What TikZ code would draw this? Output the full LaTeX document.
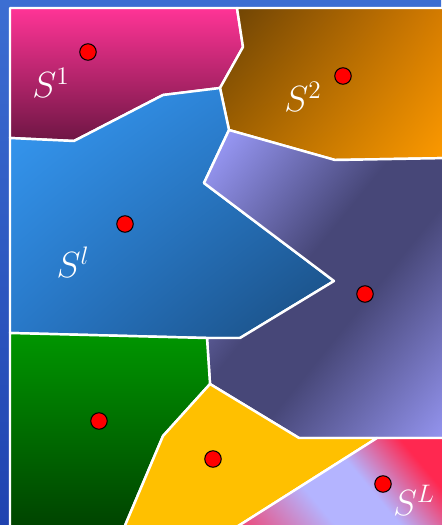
\documentclass[tikz,border=0pt]{standalone}
\usepackage{tikz}
\usetikzlibrary{shadings,calc}
\definecolor{bgtop}{HTML}{3C6ED2}
\definecolor{bgbot}{HTML}{2043B0}
\definecolor{pinktop}{HTML}{FF3496}
\definecolor{pinkbot}{HTML}{6E1644}
\definecolor{orul}{HTML}{694105}
\definecolor{orur}{HTML}{D77D00}
\definecolor{orll}{HTML}{A56400}
\definecolor{orlr}{HTML}{FF9B00}
\definecolor{blul}{HTML}{379BF5}
\definecolor{blmid}{HTML}{2878C8}
\definecolor{bllr}{HTML}{194B7D}
\definecolor{purplight}{HTML}{9B9BFA}
\definecolor{purpdark}{HTML}{474778}
\definecolor{grtop}{HTML}{009600}
\definecolor{grbot}{HTML}{004000}
\definecolor{yell}{HTML}{FFC000}
\definecolor{lavL}{HTML}{B4B4FF}
\definecolor{redL}{HTML}{FF2850}
% stops: bp = 50 + s/10, s = pixel distance across the band
\pgfdeclarehorizontalshading{purpband}{100bp}{color(0bp)=(purplight); color(32bp)=(purplight); color(47bp)=(purpdark); color(54bp)=(purpdark); color(70bp)=(purplight); color(100bp)=(purplight)}
\pgfdeclarehorizontalshading{lastband}{100bp}{color(0bp)=(redL); color(36bp)=(redL); color(45.5bp)=(lavL); color(50.5bp)=(lavL); color(56bp)=(redL); color(100bp)=(redL)}
\begin{document}
\begin{tikzpicture}[x=0.02cm, y=-0.02cm,
  cellline/.style={draw=white, line width=1.4pt, line join=round},
  seed/.style={circle, draw=black, fill=red, inner sep=0pt, minimum size=0.33cm, line width=0.6pt},
  cellname/.style={text=white, inner sep=0pt, font=\fontsize{22}{26}\selectfont},
]
\useasboundingbox (0,0) rectangle (441,525);
\shade[top color=bgtop, bottom color=bgbot] (0,0) rectangle (441,525);
% cell corners (pixel grid, y down)
\coordinate (tl) at (10,8);    \coordinate (tr) at (450,8);
\coordinate (bl) at (10,535);  \coordinate (br) at (450,535);
\coordinate (v1) at (237,8);   \coordinate (v2) at (243,47);
\coordinate (v3) at (220,88);  \coordinate (v4) at (163,95);
\coordinate (v5) at (74,141);  \coordinate (v6) at (10,138);
\coordinate (v7) at (335,160); \coordinate (v8) at (450,158);
\coordinate (v9) at (229,130); \coordinate (v10) at (204,183);
\coordinate (v11) at (334,281);\coordinate (v12) at (240,338);
\coordinate (v13) at (207,338);\coordinate (v14) at (10,333);
\coordinate (v15) at (210,384);\coordinate (v16) at (299,438);
\coordinate (v17) at (377,438);\coordinate (v18) at (450,438);
\coordinate (v19) at (163,436);\coordinate (v20) at (121,535);
\coordinate (v21) at (224,535);
\coordinate (cm) at (322,290);  \coordinate (cL) at (342,463);
% cells
\shade[cellline, top color=pinktop, bottom color=pinkbot]
  (tl) -- (v1) -- (v2) -- (v3) -- (v4) -- (v5) -- (v6) -- cycle;
\shade[cellline, upper left=orul, upper right=orur, lower left=orll, lower right=orlr]
  (v1) -- (tr) -- (v8) -- (v7) -- (v9) -- (v3) -- (v2) -- cycle;
\shade[cellline, upper left=blul, upper right=blmid, lower left=blmid, lower right=bllr]
  (v6) -- (v5) -- (v4) -- (v3) -- (v9) -- (v10) -- (v11) -- (v12) -- (v13) -- (v14) -- cycle;
% middle cell: dark band across, tilted
\begin{scope}
  \clip (v9) -- (v7) -- (v8) -- (v18) -- (v17) -- (v16) -- (v15) -- (v13) -- (v12) -- (v11) -- (v10) -- cycle;
  \begin{scope}[transform canvas={rotate around={-39:(cm)}}]
    \shade[shading=purpband] ($(cm)+(-250,-250)$) rectangle ($(cm)+(250,250)$);
  \end{scope}
\end{scope}
\draw[cellline]
  (v9) -- (v7) -- (v8) -- (v18) -- (v17) -- (v16) -- (v15) -- (v13) -- (v12) -- (v11) -- (v10) -- cycle;
\shade[cellline, top color=grtop, bottom color=grbot]
  (v14) -- (v13) -- (v15) -- (v19) -- (v20) -- (bl) -- cycle;
\fill[cellline, fill=yell]
  (v15) -- (v16) -- (v17) -- (v21) -- (v20) -- (v19) -- cycle;
% last cell: light band between red corners
\begin{scope}
  \clip (v17) -- (v18) -- (br) -- (v21) -- cycle;
  \begin{scope}[transform canvas={rotate around={40:(cL)}}]
    \shade[shading=lastband] ($(cL)+(-250,-250)$) rectangle ($(cL)+(250,250)$);
  \end{scope}
\end{scope}
\draw[cellline] (v17) -- (v18) -- (br) -- (v21) -- cycle;
% seeds
\node[seed] (s1) at (88,52) {};
\node[seed] (s2) at (343,76) {};
\node[seed] (sl) at (125,224) {};
\node[seed] (sm) at (365,294) {};
\node[seed] (sg) at (99,421) {};
\node[seed] (sy) at (213,459) {};
\node[seed] (sL) at (383,484) {};
% labels
\node[cellname] (n1) at (51,83) {$S^1$};
\node[cellname] (n2) at (303,97) {$S^2$};
\node[cellname] (nl) at (73,262) {$S^l$};
\node[cellname] (nL) at (414,500) {$S^L$};
\end{tikzpicture}
\end{document}
